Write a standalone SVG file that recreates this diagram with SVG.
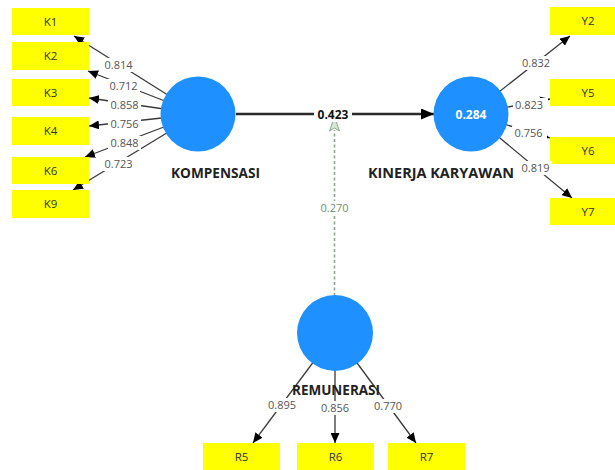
<svg xmlns="http://www.w3.org/2000/svg" width="615" height="470" viewBox="0 0 615 470">
<style>
text{font-family:"Open Sans","Noto Sans","Liberation Sans",sans-serif}
.box{fill:#FFFF00}
.bt{font-size:11.5px;fill:#333;text-anchor:middle}
.lv{fill:#1E90FF}
.ln{font-size:13.5px;font-weight:bold;fill:#222;text-anchor:middle}
.ld{stroke:#3a3a3a;stroke-width:1.3;fill:none;marker-end:url(#ah)}
.lbg{fill:#fff}
.lt{font-size:11px;fill:#555;text-anchor:middle}
</style>
<defs>
<marker id="ah" markerUnits="userSpaceOnUse" markerWidth="11" markerHeight="9" refX="10" refY="4.5" orient="auto"><path d="M0,0 L10,4.5 L0,9 z" fill="#000"/></marker>
<marker id="ahb" markerUnits="userSpaceOnUse" markerWidth="14" markerHeight="11" refX="13" refY="5.5" orient="auto"><path d="M0,0 L13,5.5 L0,11 z" fill="#000"/></marker>
</defs>
<g id="connectors">
<line x1="198" y1="114" x2="74" y2="36" class="ld"/>
<line x1="198" y1="114" x2="88" y2="71" class="ld"/>
<line x1="198" y1="114" x2="89" y2="98" class="ld"/>
<line x1="198" y1="114" x2="89" y2="126" class="ld"/>
<line x1="198" y1="114" x2="85" y2="157" class="ld"/>
<line x1="198" y1="114" x2="73" y2="190" class="ld"/>
<line x1="471" y1="114" x2="570" y2="36" class="ld"/>
<line x1="471" y1="114" x2="550" y2="99" class="ld"/>
<line x1="471" y1="114" x2="550" y2="138" class="ld"/>
<line x1="471" y1="114" x2="572" y2="198" class="ld"/>
<line x1="335" y1="333" x2="253" y2="443" class="ld"/>
<line x1="335" y1="333" x2="335" y2="443" class="ld"/>
<line x1="335" y1="333" x2="416" y2="443" class="ld"/>
<line x1="236" y1="114" x2="434" y2="114" stroke="#2a2a2a" stroke-width="2.5" marker-end="url(#ahb)"/>
<line x1="334.5" y1="296" x2="334.5" y2="130" stroke="#8aa88a" stroke-width="1.6" stroke-dasharray="3,2.5"/>
<path d="M334.5,117 L339.5,131 L334.5,128 L329.5,131 z" fill="#d6e6d6" stroke="#8aa88a" stroke-width="1"/>
</g>
<g id="KOMPENSASI">
<circle cx="198" cy="114" r="37.5" class="lv"/>
<text x="215.5" y="177.5" class="ln" textLength="89" lengthAdjust="spacingAndGlyphs">KOMPENSASI</text>
</g>
<g id="KINERJA_KARYAWAN">
<circle cx="471" cy="114" r="37.5" class="lv"/>
<text x="471" y="119" font-size="12" font-weight="bold" fill="#fff" text-anchor="middle">0.284</text>
<text x="441" y="177.5" class="ln" textLength="146" lengthAdjust="spacingAndGlyphs">KINERJA KARYAWAN</text>
</g>
<g id="REMUNERASI">
<circle cx="335" cy="333" r="38" class="lv"/>
<text x="336" y="394.5" class="ln" textLength="88" lengthAdjust="spacingAndGlyphs">REMUNERASI</text>
</g>
<g id="K1"><rect x="12" y="8" width="77" height="27" class="box"/><text x="50.5" y="25.5" class="bt">K1</text></g>
<g id="K2"><rect x="12" y="42" width="77" height="28" class="box"/><text x="50.5" y="60" class="bt">K2</text></g>
<g id="K3"><rect x="12" y="79" width="77" height="27" class="box"/><text x="50.5" y="96.5" class="bt">K3</text></g>
<g id="K4"><rect x="12" y="117" width="77" height="28" class="box"/><text x="50.5" y="135" class="bt">K4</text></g>
<g id="K6"><rect x="12" y="157" width="77" height="27" class="box"/><text x="50.5" y="174.5" class="bt">K6</text></g>
<g id="K9"><rect x="12" y="190" width="77" height="28" class="box"/><text x="50.5" y="208" class="bt">K9</text></g>
<g id="Y2"><rect x="550" y="7" width="77" height="28" class="box"/><text x="588" y="25" class="bt">Y2</text></g>
<g id="Y5"><rect x="550" y="79" width="77" height="27" class="box"/><text x="588" y="96.5" class="bt">Y5</text></g>
<g id="Y6"><rect x="550" y="137" width="77" height="27" class="box"/><text x="588" y="154.5" class="bt">Y6</text></g>
<g id="Y7"><rect x="550" y="198" width="77" height="27" class="box"/><text x="588" y="215.5" class="bt">Y7</text></g>
<g id="R5"><rect x="203" y="443" width="77" height="28" class="box"/><text x="241.5" y="461" class="bt">R5</text></g>
<g id="R6"><rect x="297" y="443" width="77" height="28" class="box"/><text x="335.5" y="461" class="bt">R6</text></g>
<g id="R7"><rect x="388" y="443" width="77" height="28" class="box"/><text x="426.5" y="461" class="bt">R7</text></g>
<g id="connector-labels">
<rect x="102" y="58" width="33" height="14" class="lbg"/><text x="118.5" y="69" class="lt">0.814</text>
<rect x="107" y="79" width="33" height="14" class="lbg"/><text x="123.5" y="90" class="lt">0.712</text>
<rect x="108" y="98" width="33" height="14" class="lbg"/><text x="124.5" y="109" class="lt">0.858</text>
<rect x="108" y="117" width="33" height="14" class="lbg"/><text x="124.5" y="128" class="lt">0.756</text>
<rect x="108" y="136" width="33" height="14" class="lbg"/><text x="124.5" y="147" class="lt">0.848</text>
<rect x="102" y="157" width="33" height="14" class="lbg"/><text x="118.5" y="168" class="lt">0.723</text>
<rect x="520" y="56" width="33" height="14" class="lbg"/><text x="536" y="67" class="lt">0.832</text>
<rect x="513" y="98" width="35" height="14" class="lbg"/><text x="529" y="109" class="lt">0.823</text>
<rect x="512" y="126" width="35" height="14" class="lbg"/><text x="528.5" y="137" class="lt">0.756</text>
<rect x="519" y="161" width="33" height="14" class="lbg"/><text x="535.5" y="172" class="lt">0.819</text>
<rect x="265" y="398" width="34" height="14" class="lbg"/><text x="282" y="409" class="lt">0.895</text>
<rect x="319" y="401" width="33" height="14" class="lbg"/><text x="335" y="412" class="lt">0.856</text>
<rect x="371" y="399" width="34" height="14" class="lbg"/><text x="388" y="410" class="lt">0.770</text>
<rect x="314" y="106" width="38" height="16" class="lbg"/><text x="333" y="118.5" font-size="12" font-weight="bold" fill="#111" text-anchor="middle">0.423</text>
<rect x="316" y="201" width="37" height="14" class="lbg"/><text x="334.5" y="212" font-size="11" fill="#6f8f6f" text-anchor="middle">0.270</text>
</g>
</svg>
